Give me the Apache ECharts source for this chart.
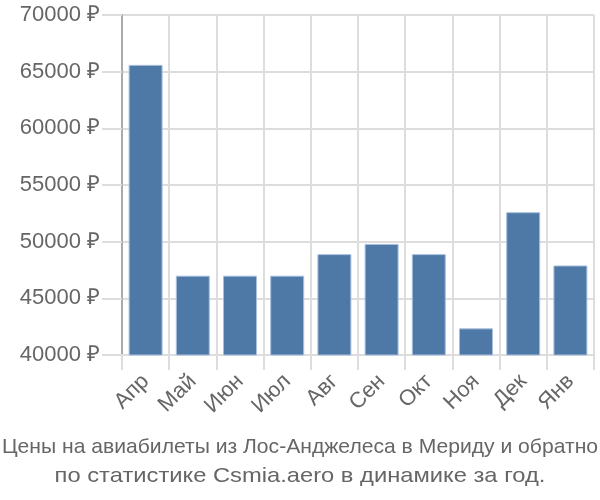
<!DOCTYPE html>
<html><head><meta charset="utf-8">
<script src="https://cdn.jsdelivr.net/npm/echarts@6/dist/echarts.min.js"></script>
<style>html,body{margin:0;padding:0;background:#fff}#c{width:600px;height:500px}</style>
</head><body><div id="c"></div>
<script>
var categories = ['Апр','Май','Июн','Июл','Авг','Сен','Окт','Ноя','Дек','Янв'];
var prices = [65600, 47000, 47000, 47000, 48900, 49800, 48900, 42350, 52600, 47900];
var yTicks = {min: 40000, max: 70000, interval: 5000};
var titleLines = ['Цены на авиабилеты из Лос-Анджелеса в Мериду и обратно', 'по статистике Csmia.aero в динамике за год.'];

var chart = echarts.init(document.getElementById('c'), null, {renderer: 'canvas'});
var titleFont = '21px "Liberation Sans", sans-serif';
chart.setOption({
  animation: false,
  graphic: [
    {type: 'text', x: 300, y: 447.5, scaleX: 1.005, style: {text: titleLines[0], font: titleFont, fill: '#666', textAlign: 'center', textVerticalAlign: 'middle'}},
    {type: 'text', x: 300, y: 476.5, scaleX: 1.13, style: {text: titleLines[1], font: titleFont, fill: '#666', textAlign: 'center', textVerticalAlign: 'middle'}}
  ],
  grid: {left: 122, right: 6, top: 15, bottom: 145},
  xAxis: {
    type: 'category', data: categories,
    axisLine: {show: true, lineStyle: {color: '#ddd', width: 2}},
    axisTick: {show: true, length: 15, lineStyle: {color: '#ddd', width: 2}, alignWithLabel: false},
    splitLine: {show: true, lineStyle: {color: '#ddd', width: 2}},
    axisLabel: {rotate: 45, fontSize: 22, color: '#666', fontFamily: 'Liberation Sans, sans-serif', margin: 23, interval: 0}
  },
  yAxis: {
    type: 'value', min: yTicks.min, max: yTicks.max, interval: yTicks.interval,
    axisLine: {show: true, lineStyle: {color: '#aaa', width: 2}},
    axisTick: {show: true, length: 20, lineStyle: {color: '#ddd', width: 2}},
    splitLine: {show: true, lineStyle: {color: '#ddd', width: 2}},
    axisLabel: {formatter: function (v) { return v + ' ₽'; }, fontSize: 22, color: '#666', fontFamily: 'Liberation Sans, sans-serif', margin: 22}
  },
  series: [{
    type: 'bar', data: prices, barCategoryGap: '28%',
    itemStyle: {color: '#4e79a7', borderColor: '#a9c0dc', borderWidth: 1}
  }]
});
</script></body></html>
